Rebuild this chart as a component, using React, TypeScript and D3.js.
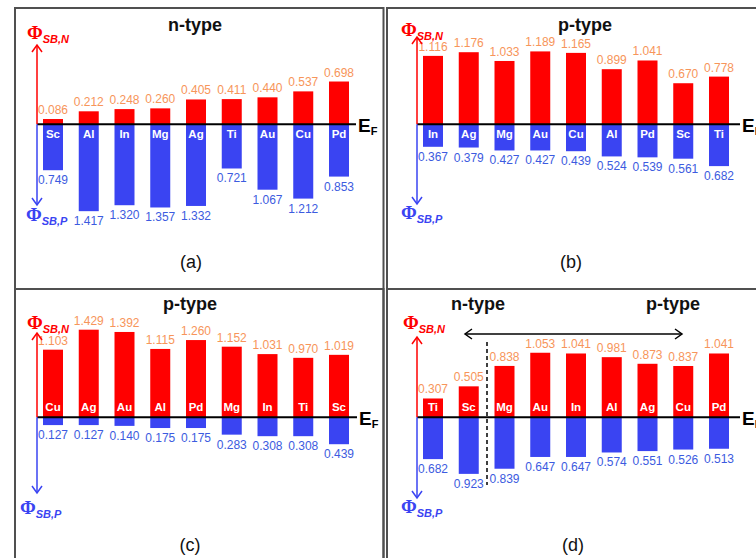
import React from 'react';
import * as d3 from 'd3';

// Panel (a): n-type contacts
const metalsA = ['Sc', 'Al', 'In', 'Mg', 'Ag', 'Ti', 'Au', 'Cu', 'Pd'];
const phiNA = [0.086, 0.212, 0.248, 0.26, 0.405, 0.411, 0.44, 0.537, 0.698];
const phiPA = [0.749, 1.417, 1.32, 1.357, 1.332, 0.721, 1.067, 1.212, 0.853];

// Panel (b): p-type contacts
const metalsB = ['In', 'Ag', 'Mg', 'Au', 'Cu', 'Al', 'Pd', 'Sc', 'Ti'];
const phiNB = [1.116, 1.176, 1.033, 1.189, 1.165, 0.899, 1.041, 0.67, 0.778];
const phiPB = [0.367, 0.379, 0.427, 0.427, 0.439, 0.524, 0.539, 0.561, 0.682];

// Panel (c): p-type contacts
const metalsC = ['Cu', 'Ag', 'Au', 'Al', 'Pd', 'Mg', 'In', 'Ti', 'Sc'];
const phiNC = [1.103, 1.429, 1.392, 1.115, 1.26, 1.152, 1.031, 0.97, 1.019];
const phiPC = [0.127, 0.127, 0.14, 0.175, 0.175, 0.283, 0.308, 0.308, 0.439];

// Panel (d): mixed
const metalsD = ['Ti', 'Sc', 'Mg', 'Au', 'In', 'Al', 'Ag', 'Cu', 'Pd'];
const phiND = [0.307, 0.505, 0.838, 1.053, 1.041, 0.981, 0.873, 0.837, 1.041];
const phiPD = [0.682, 0.923, 0.839, 0.647, 0.647, 0.574, 0.551, 0.526, 0.513];

const RED = '#ff0000';
const BLUE = '#3a44f2';
const ORANGE = '#f7955a';
const BLUE_TXT = '#3c5be0';
const SANS = '"Liberation Sans", Arial, sans-serif';
const PX_PER_EV = 61.3;
const STEP = 35.75;
const BAR_W = 20;

type Panel = {
  metals: string[];
  n: number[];
  p: number[];
  left: number;
  top: number;
  right: number;
  axisX: number;
  baseY: number;
  titles: { text: string; x: number; y: number }[];
  tag: string;
  tagX: number;
  tagY: number;
  arrowTop: number;
  arrowBottom: number;
  phiN: [number, number];
  phiP: [number, number];
  lineEnd: number;
  labelsBelow: boolean;
};

const panels: Panel[] = [
  {
    metals: metalsA, n: phiNA, p: phiPA,
    left: 15, top: 8, right: 383.5, axisX: 37, baseY: 124.3,
    titles: [{ text: 'n-type', x: 195, y: 31 }],
    tag: '(a)', tagX: 191, tagY: 268,
    arrowTop: 45, arrowBottom: 205, phiN: [27, 39], phiP: [26, 221],
    lineEnd: 356, labelsBelow: true,
  },
  {
    metals: metalsB, n: phiNB, p: phiPB,
    left: 387, top: 8, right: 780, axisX: 417, baseY: 124.3,
    titles: [{ text: 'p-type', x: 585, y: 31 }],
    tag: '(b)', tagX: 571, tagY: 268,
    arrowTop: 37, arrowBottom: 204, phiN: [401, 36], phiP: [401, 219],
    lineEnd: 740, labelsBelow: true,
  },
  {
    metals: metalsC, n: phiNC, p: phiPC,
    left: 15, top: 289, right: 383.5, axisX: 37, baseY: 417.3,
    titles: [{ text: 'p-type', x: 190, y: 310 }],
    tag: '(c)', tagX: 190, tagY: 551,
    arrowTop: 333, arrowBottom: 493, phiN: [27, 329], phiP: [20, 514],
    lineEnd: 357, labelsBelow: false,
  },
  {
    metals: metalsD, n: phiND, p: phiPD,
    left: 387, top: 289, right: 780, axisX: 417, baseY: 417.3,
    titles: [
      { text: 'n-type', x: 478, y: 310 },
      { text: 'p-type', x: 673, y: 310 },
    ],
    tag: '(d)', tagX: 573, tagY: 551,
    arrowTop: 337, arrowBottom: 498, phiN: [403, 329], phiP: [401, 513],
    lineEnd: 740, labelsBelow: false,
  },
];

const PhiLabel = ({ x, y, sub, color }: { x: number; y: number; sub: string; color: string }) => (
  <text x={x} y={y} fill={color}>
    <tspan fontFamily='"Liberation Serif", "DejaVu Serif", serif' fontWeight="bold" fontSize={19}>Φ</tspan>
    <tspan fontFamily={SANS} fontWeight="bold" fontStyle="italic" fontSize={11} dy={4}>{sub}</tspan>
  </text>
);

const PanelChart = ({ cfg }: { cfg: Panel }) => {
  const x = d3.scalePoint<string>()
    .domain(cfg.metals)
    .range([cfg.axisX + 16, cfg.axisX + 16 + STEP * (cfg.metals.length - 1)]);
  const y = d3.scaleLinear()
    .domain([-1, 1])
    .range([cfg.baseY + PX_PER_EV, cfg.baseY - PX_PER_EV]);

  const ax = cfg.axisX;
  return (
    <g>
      <rect x={cfg.left} y={cfg.top} width={cfg.right - cfg.left} height={600}
        fill="none" stroke="#505050" strokeWidth={2} />

      {cfg.titles.map(t => (
        <text key={t.text} x={t.x} y={t.y} textAnchor="middle" fontFamily={SANS}
          fontWeight="bold" fontSize={18} fill="#111">{t.text}</text>
      ))}

      {/* bars */}
      {cfg.metals.map((m, i) => {
        const cx = x(m) as number;
        return (
          <g key={m}>
            <rect x={cx - BAR_W / 2} y={y(cfg.n[i])} width={BAR_W} height={y(0) - y(cfg.n[i])} fill={RED} />
            <rect x={cx - BAR_W / 2} y={y(0)} width={BAR_W} height={y(-cfg.p[i]) - y(0)} fill={BLUE} />
            <text x={cx} y={y(cfg.n[i]) - 5} textAnchor="middle" fontFamily={SANS}
              fontSize={12} fill={ORANGE}>{cfg.n[i].toFixed(3)}</text>
            <text x={cx} y={y(-cfg.p[i]) + 14} textAnchor="middle" fontFamily={SANS}
              fontSize={12} fill={BLUE_TXT}>{cfg.p[i].toFixed(3)}</text>
            <text x={cx} y={cfg.labelsBelow ? cfg.baseY + 14 : cfg.baseY - 6.5} textAnchor="middle"
              fontFamily={SANS} fontWeight="bold" fontSize={11.5} fill="#fff">{m}</text>
          </g>
        );
      })}

      {/* Fermi level */}
      <line x1={ax} x2={cfg.lineEnd} y1={cfg.baseY} y2={cfg.baseY} stroke="#000" strokeWidth={2} />
      <text x={cfg.lineEnd + 2} y={cfg.baseY + 8} fontFamily={SANS} fontWeight="bold" fontSize={19} fill="#000">
        E<tspan fontSize={11} dy={3}>F</tspan>
      </text>

      {/* vertical arrows */}
      <line x1={ax} x2={ax} y1={cfg.baseY} y2={cfg.arrowTop} stroke={RED} strokeWidth={1.5} />
      <polyline points={`${ax - 5},${cfg.arrowTop + 7} ${ax},${cfg.arrowTop} ${ax + 5},${cfg.arrowTop + 7}`}
        fill="none" stroke={RED} strokeWidth={1.5} />
      <line x1={ax} x2={ax} y1={cfg.baseY} y2={cfg.arrowBottom} stroke={BLUE} strokeWidth={1.5} />
      <polyline points={`${ax - 5},${cfg.arrowBottom - 7} ${ax},${cfg.arrowBottom} ${ax + 5},${cfg.arrowBottom - 7}`}
        fill="none" stroke={BLUE} strokeWidth={1.5} />

      <PhiLabel x={cfg.phiN[0]} y={cfg.phiN[1]} sub="SB,N" color={RED} />
      <PhiLabel x={cfg.phiP[0]} y={cfg.phiP[1]} sub="SB,P" color={BLUE} />

      <text x={cfg.tagX} y={cfg.tagY} textAnchor="middle" fontFamily={SANS} fontSize={18} fill="#111">{cfg.tag}</text>
    </g>
  );
};

export default function App() {
  return (
    <div style={{ position: 'absolute', left: 0, top: 0 }}>
      <svg width={756} height={558} style={{ display: 'block', background: '#fff' }}>
        {panels.map(p => <PanelChart key={p.tag} cfg={p} />)}
        {/* extras for panel (d): double arrow and the n/p divider */}
        <line x1={465} x2={682} y1={334} y2={334} stroke="#000" strokeWidth={1.5} />
        <polyline points="472,329 465,334 472,339" fill="none" stroke="#000" strokeWidth={1.5} />
        <polyline points="675,329 682,334 675,339" fill="none" stroke="#000" strokeWidth={1.5} />
        <line x1={487} x2={487} y1={342} y2={485} stroke="#000" strokeWidth={1.5} strokeDasharray="4,3" />
      </svg>
    </div>
  );
}
